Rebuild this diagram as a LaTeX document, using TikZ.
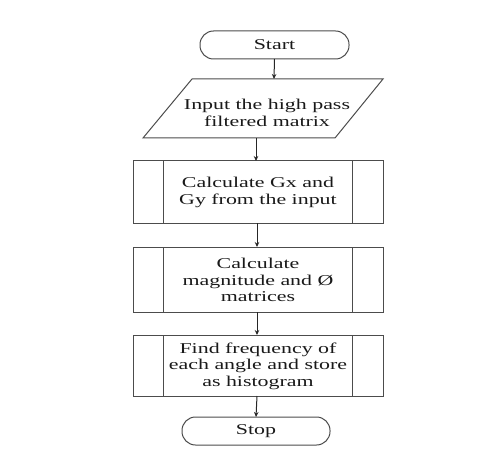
\documentclass[tikz,border=0pt]{standalone}
\usepackage{fontspec}
\setmainfont{Liberation Serif}[FakeStretch=1.46]
\usetikzlibrary{arrows.meta,calc}
\begin{document}
\begin{tikzpicture}[x=1pt,y=-1pt,
  every node/.style={inner sep=0pt,outer sep=0pt,font=\fontsize{15}{16.5}\selectfont,text=black!90,align=center},
  ln/.style={draw=black!70,line width=1pt},
  term/.style={ln,rounded corners=13.5pt,minimum height=28pt},
  proc/.style={ln,minimum width=250pt},
  arr/.style={draw=black!85,line width=1pt,-{Stealth[length=5pt,width=4.5pt]}}
]
\useasboundingbox (0,0) rectangle (503,457);
% Start
\node[term,minimum width=149pt] (start) at (274.5,45) {Start};
% Input parallelogram
\draw[ln] (192,79) -- (383,79) -- (335,138) -- (143,138) -- cycle;
\coordinate (intop) at (274,79);
\coordinate (inbot) at (256,138);
\node (in) at (267,113) {Input the high pass\\filtered matrix};
% Process 1
\node[proc,minimum height=62pt] (p1) at (258,192) {};
\node (t1) at (258,192.5) {Calculate Gx and\\Gy from the input};
% Process 2
\node[proc,minimum height=65pt] (p2) at (258,279.5) {};
\node (t2) at (258,280) {Calculate\\magnitude and Ø\\matrices};
% Process 3
\node[proc,minimum height=61pt] (p3) at (258,365.5) {};
\node (t3) at (258,366) {Find frequency of\\each angle and store\\as histogram};
% inner lines
\foreach \p in {p1,p2,p3}{
  \draw[ln] ($(\p.north west)+(30,0)$) -- ($(\p.south west)+(30,0)$);
  \draw[ln] ($(\p.north east)+(-31,0)$) -- ($(\p.south east)+(-31,0)$);
}
% Stop
\node[term,minimum width=148pt] (stop) at (256,431) {Stop};
% arrows
\draw[arr] (start.south) -- (intop);
\draw[arr] (inbot) -- (inbot |- p1.north);
\draw[arr] ($(p1.south)+(-1,0)$) -- ($(p2.north)+(-1,0)$);
\draw[arr] ($(p2.south)+(-1,0)$) -- ($(p3.north)+(-1,0)$);
\draw[arr] ($(p3.south)+(-1,0)$) -- (stop.north);
\end{tikzpicture}
\end{document}
